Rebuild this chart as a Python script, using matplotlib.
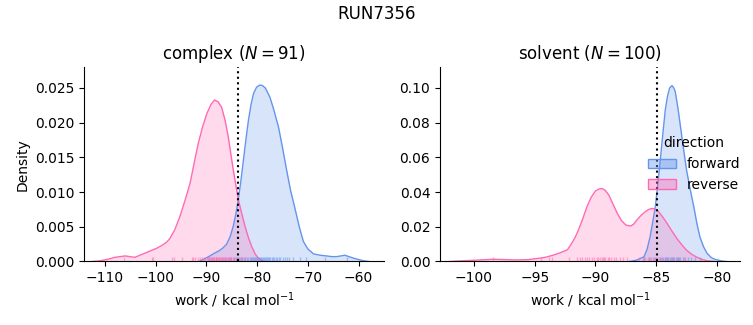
import numpy as np
import matplotlib.pyplot as plt
from matplotlib.patches import Patch
from matplotlib.colors import to_rgba

# density curves (work in kcal/mol, density)
cx_rev_x = [-112.5, -111.0, -109.5, -108.0, -106.0, -104.1, -102.1, -101.1, -99.8, -98.8,
            -97.8, -97.2, -96.2, -95.2, -94.2, -93.2, -92.4, -91.6, -90.7, -89.9,
            -89.1, -88.4, -87.7, -87.0, -86.3, -85.7, -85.2, -84.7, -84.2, -83.7,
            -83.0, -82.4, -81.7, -81.1, -80.4, -79.8, -79.0, -78.5]
cx_rev_d = [0.0, 0.0001, 0.0003, 0.0006, 0.0008, 0.0006, 0.0012, 0.0015, 0.0019, 0.0023,
            0.0028, 0.0033, 0.0046, 0.0065, 0.0088, 0.0113, 0.0142, 0.0170, 0.0195, 0.0213,
            0.0226, 0.02325, 0.0230, 0.0222, 0.0203, 0.0180, 0.0156, 0.0132, 0.0110, 0.0089,
            0.0068, 0.0051, 0.0034, 0.0022, 0.0011, 0.0005, 0.0001, 0.0]

cx_fwd_x = [-91.5, -90.3, -89.3, -88.4, -87.6, -86.8, -86.0, -85.3, -84.7, -84.2,
            -83.7, -83.2, -82.7, -82.2, -81.7, -81.2, -80.7, -80.1, -79.5, -79.0,
            -78.4, -77.5, -76.7, -75.8, -75.0, -74.2, -73.4, -72.5, -71.7, -70.9,
            -70.0, -68.9, -67.6, -66.3, -65.3, -64.4, -63.5, -62.7, -61.9, -61.1,
            -60.1, -59.0, -58.0]
cx_fwd_d = [0.0, 0.0004, 0.0008, 0.0012, 0.0015, 0.0019, 0.0025, 0.0036, 0.0051, 0.0068,
            0.0089, 0.0116, 0.0146, 0.0176, 0.0204, 0.0226, 0.0242, 0.0251, 0.0254, 0.02535,
            0.0250, 0.0237, 0.0218, 0.0194, 0.0164, 0.0132, 0.0102, 0.0075, 0.0050, 0.0029,
            0.0018, 0.0011, 0.0009, 0.0008, 0.0007, 0.0007, 0.0008, 0.0009, 0.0007, 0.0005,
            0.0003, 0.0001, 0.0]

sv_rev_x = [-102.0, -101.0, -100.0, -99.2, -98.4, -97.5, -96.5, -95.5, -94.5, -94.0,
            -93.4, -92.9, -92.3, -92.05, -91.7, -91.4, -91.05, -90.7, -90.35, -90.0,
            -89.7, -89.45, -89.2, -88.9, -88.55, -88.2, -87.85, -87.5, -87.1, -86.85,
            -86.6, -86.25, -85.9, -85.6, -85.3, -85.05, -84.8, -84.45, -84.1, -83.7,
            -83.3, -82.9, -82.5, -82.05, -81.6, -81.2, -80.8, -80.2]
sv_rev_d = [0.0, 0.0004, 0.0007, 0.0010, 0.0013, 0.0011, 0.0009, 0.0011, 0.0020, 0.0026,
            0.0038, 0.0050, 0.0068, 0.0094, 0.0135, 0.0181, 0.0245, 0.0315, 0.0370, 0.0406,
            0.0418, 0.0420, 0.0410, 0.0383, 0.0330, 0.0277, 0.0235, 0.0210, 0.0204, 0.0215,
            0.0238, 0.0265, 0.0287, 0.0300, 0.0306, 0.0300, 0.0287, 0.0255, 0.0219, 0.0175,
            0.0133, 0.0097, 0.0065, 0.0040, 0.0023, 0.0012, 0.0004, 0.0]

sv_fwd_x = [-87.2, -86.6, -86.0, -85.75, -85.5, -85.3, -85.07, -84.87, -84.66, -84.45,
            -84.25, -84.07, -83.9, -83.7, -83.55, -83.43, -83.2, -83.0, -82.75, -82.5,
            -82.2, -81.9, -81.65, -81.4, -81.1, -80.8, -80.45, -80.15, -79.6, -79.2]
sv_fwd_d = [0.0, 0.0008, 0.0027, 0.0070, 0.0142, 0.0220, 0.0315, 0.0440, 0.0585, 0.0735,
            0.0873, 0.0950, 0.0998, 0.1013, 0.1000, 0.0979, 0.0880, 0.0777, 0.0650, 0.0527,
            0.0415, 0.0315, 0.0220, 0.0142, 0.0085, 0.0046, 0.0022, 0.0012, 0.0003, 0.0]

# individual work values (rug marks)
cx_rev_w = [-106.2, -100.8, -100.5, -96.8, -96.4, -94.8, -92.9, -92.6, -92.2, -91.6,
            -91.2, -90.8, -90.5, -90.3, -89.9, -89.7, -89.5, -89.3, -89.1, -88.9,
            -88.8, -88.6, -88.5, -88.4, -88.2, -88.1, -87.9, -87.8, -87.6, -87.5,
            -87.3, -87.1, -87.0, -86.8, -86.6, -86.4, -86.2, -86.0, -85.8, -85.6,
            -85.3, -85.1, -84.8, -84.5, -84.2, -83.8, -83.4, -82.9, -82.4]
cx_fwd_w = [-89.5, -88.2, -87.0, -86.3, -85.6, -85.1, -84.6, -84.2, -83.9, -83.5,
            -83.2, -82.9, -82.6, -82.3, -82.0, -81.8, -81.5, -81.3, -81.0, -80.8,
            -80.6, -80.4, -80.2, -80.0, -79.8, -79.6, -79.4, -79.2, -79.0, -78.8,
            -78.6, -78.4, -78.2, -78.0, -77.8, -77.6, -77.4, -77.1, -76.9, -76.6,
            -76.3, -76.0, -75.7, -75.4, -75.0, -74.6, -74.2, -73.7, -73.0, -71.6,
            -70.4, -66.7, -62.3]
sv_rev_w = [-98.4, -94.5, -93.8, -93.6, -92.2, -91.5, -91.3, -91.1, -90.9, -90.7,
            -90.5, -90.3, -90.1, -89.9, -89.8, -89.6, -89.5, -89.4, -89.3, -89.2,
            -89.0, -88.9, -88.7, -88.5, -88.3, -88.0, -87.7, -87.4, -86.4, -86.1,
            -85.9, -85.7, -85.5, -85.4, -85.2, -85.0, -84.8, -84.6, -84.3, -84.0,
            -83.6, -83.2, -82.7]
sv_fwd_w = [-86.0, -85.6, -85.3, -85.1, -84.9, -84.7, -84.5, -84.4, -84.3, -84.2,
            -84.1, -84.0, -83.9, -83.8, -83.7, -83.6, -83.5, -83.4, -83.3, -83.2,
            -83.1, -83.0, -82.8, -82.6, -82.4, -82.1, -81.8, -81.4]

cx_line = -83.8
sv_line = -84.9
cx_n = 91
sv_n = 100

c_fwd = 'cornflowerblue'
c_rev = 'hotpink'

fig = plt.figure(figsize=(7.53, 3.25), dpi=100)
ax1 = fig.add_axes([0.1116, 0.1954, 0.3984, 0.5984])
ax2 = fig.add_axes([0.5843, 0.1954, 0.3984, 0.5984])

panels = [
    (ax1, 'complex', cx_n, cx_fwd_x, cx_fwd_d, cx_rev_x, cx_rev_d, cx_fwd_w, cx_rev_w, cx_line),
    (ax2, 'solvent', sv_n, sv_fwd_x, sv_fwd_d, sv_rev_x, sv_rev_d, sv_fwd_w, sv_rev_w, sv_line),
]

for ax, name, n, fx, fd, rx, rd, fw, rw, vline in panels:
    ax.fill_between(fx, fd, color=c_fwd, alpha=0.25, lw=0)
    ax.plot(fx, fd, color=c_fwd, lw=1)
    ax.fill_between(rx, rd, color=c_rev, alpha=0.25, lw=0)
    ax.plot(rx, rd, color=c_rev, lw=1)
    # rug
    for w, c in [(fw, c_fwd), (rw, c_rev)]:
        ax.vlines(w, 0, 0.025, transform=ax.get_xaxis_transform(), color=c, lw=1, alpha=0.5)
    ax.axvline(vline, color='k', ls=':', lw=1.5)
    ax.set_title(name + r' ($N = %d$)' % n, fontsize=12)
    ax.set_xlabel(r'work / kcal mol$^{-1}$')
    ax.spines['top'].set_visible(False)
    ax.spines['right'].set_visible(False)

ax1.set_xlim(-114.1, -55.0)
ax1.set_ylim(0, 0.028)
ax1.set_ylabel('Density')
ax1.set_yticks([0, 0.005, 0.01, 0.015, 0.02, 0.025])
ax1.set_yticklabels(['0.000', '0.005', '0.010', '0.015', '0.020', '0.025'])

ax2.set_xlim(-102.8, -78.1)
ax2.set_ylim(0, 0.112)
ax2.set_yticks([0, 0.02, 0.04, 0.06, 0.08, 0.10])
ax2.set_yticklabels(['0.00', '0.02', '0.04', '0.06', '0.08', '0.10'])

handles = [Patch(facecolor=to_rgba(c_fwd, 0.4), edgecolor=c_fwd),
           Patch(facecolor=to_rgba(c_rev, 0.4), edgecolor=c_rev)]
ax2.legend(handles, ['forward', 'reverse'], title='direction', loc='center right',
           frameon=False, borderaxespad=0.0, bbox_to_anchor=(1.02, 0.5))

fig.suptitle('RUN7356', fontsize=12, y=0.985)
fig.savefig('out.png', dpi=100)
